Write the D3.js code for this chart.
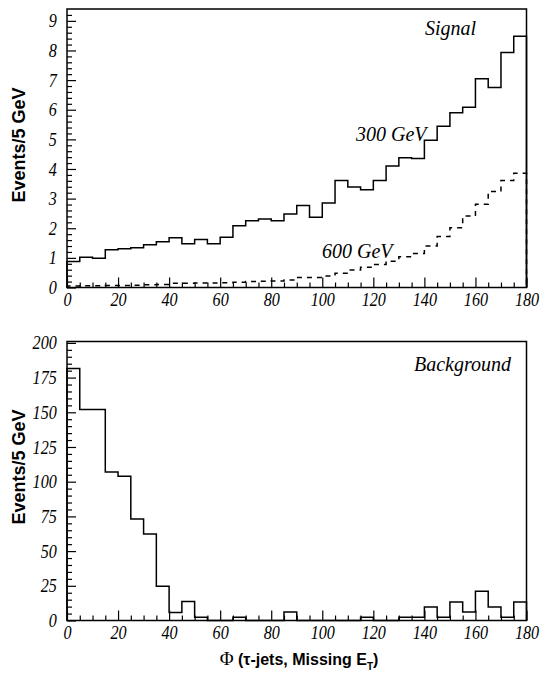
<!DOCTYPE html>
<html>
<head>
<meta charset="utf-8">
<script src="https://cdn.jsdelivr.net/npm/d3@7"></script>
<style>
  body { margin: 0; background: #fff; }
  svg { display: block; }
  .tick text { font-family: "Liberation Serif", serif; font-style: italic; font-size: 19px; fill: #000; }
  .tick line { stroke: #000; stroke-width: 1.2; }
</style>
</head>
<body>
<div id="chart"></div>
<script>
// bin lower edges, 5 GeV wide
const binStarts = d3.range(0, 180, 5);

// Signal, 300 GeV (solid) and 600 GeV (dashed), events / 5 GeV
const signal300 = [0.88, 1.02, 0.99, 1.27, 1.31, 1.34, 1.44, 1.54, 1.68, 1.48, 1.62, 1.48,
  1.70, 2.08, 2.25, 2.31, 2.25, 2.48, 2.77, 2.37, 2.85, 3.61, 3.39, 3.30,
  3.61, 4.10, 4.38, 4.35, 4.97, 5.44, 5.90, 6.08, 7.05, 6.75, 7.93, 8.48];
const signal600 = [0.05, 0.06, 0.06, 0.07, 0.07, 0.08, 0.09, 0.10, 0.14, 0.14, 0.15, 0.15,
  0.16, 0.18, 0.20, 0.21, 0.22, 0.25, 0.34, 0.34, 0.39, 0.48, 0.59, 0.68,
  0.78, 0.89, 1.04, 1.15, 1.40, 1.72, 2.02, 2.41, 2.81, 3.24, 3.61, 3.86];

// Background
const background = [181.6, 152, 152, 107, 104, 73.2, 62.3, 24.7, 5.8, 13.6, 2.4, 0,
  0, 2.4, 0, 0, 0, 6.1, 0, 0, 0, 0, 0, 2.4,
  0, 0, 2.4, 2.4, 9.7, 2.4, 13.3, 6.1, 21.1, 9.7, 2.4, 13.3];

const xTicks = [0, 20, 40, 60, 80, 100, 120, 140, 160, 180];
const yTicksTop = [0, 1, 2, 3, 4, 5, 6, 7, 8, 9];
const yTicksBottom = [0, 25, 50, 75, 100, 125, 150, 175, 200];

const W = 540, H = 673;
const left = 67, right = 526.5;

const svg = d3.select('#chart').append('svg')
  .attr('width', W)
  .attr('height', H);

const x = d3.scaleLinear().domain([0, 180]).range([left, right]);

function histPath(values) {
  const pts = [[0, 0]];
  values.forEach((v, i) => {
    pts.push([binStarts[i], v]);
    pts.push([binStarts[i] + 5, v]);
  });
  pts.push([180, 0]);
  return pts;
}

// tick labels are narrow in the original
const squeeze = a => a.selectAll('.tick text').attr('transform', 'scale(0.85,1)');

function panel(top, bottom, yMax, yMajor, yMinorStep, xMinorStep) {
  const y = d3.scaleLinear().domain([0, yMax]).range([bottom, top]);
  const g = svg.append('g');

  // minor ticks
  const xMinor = d3.range(0, 180.01, xMinorStep).filter(v => !xTicks.includes(v));
  g.append('g')
    .attr('transform', `translate(0,${bottom})`)
    .call(d3.axisBottom(x).tickValues(xMinor).tickSize(-5).tickFormat(''))
    .call(a => a.select('.domain').remove());
  const yMinor = d3.range(0, yMax, yMinorStep)
    .filter(v => !yMajor.some(m => Math.abs(m - v) < 1e-6));
  g.append('g')
    .attr('transform', `translate(${left},0)`)
    .call(d3.axisLeft(y).tickValues(yMinor).tickSize(-5).tickFormat(''))
    .call(a => a.select('.domain').remove());

  // major ticks + labels
  g.append('g')
    .attr('transform', `translate(0,${bottom})`)
    .call(d3.axisBottom(x).tickValues(xTicks).tickSize(-10).tickPadding(5).tickFormat(d3.format('d')))
    .call(a => a.select('.domain').remove())
    .call(squeeze);
  g.append('g')
    .attr('transform', `translate(${left},0)`)
    .call(d3.axisLeft(y).tickValues(yMajor).tickSize(-9).tickPadding(12).tickFormat(d3.format('d')))
    .call(a => a.select('.domain').remove())
    .call(squeeze);

  // frame
  g.append('rect')
    .attr('x', left).attr('y', top)
    .attr('width', right - left).attr('height', bottom - top)
    .attr('fill', 'none').attr('stroke', '#000').attr('stroke-width', 1.5);

  return { g, y };
}

const line = y => d3.line().x(d => x(d[0])).y(d => y(d[1]));

// top panel: signal
const topP = panel(9, 287.5, 9.4, yTicksTop, 0.2, 5);
topP.g.append('path')
  .attr('d', line(topP.y)(histPath(signal600)))
  .attr('fill', 'none').attr('stroke', '#000').attr('stroke-width', 1.5)
  .attr('stroke-dasharray', '5,5');
topP.g.append('path')
  .attr('d', line(topP.y)(histPath(signal300)))
  .attr('fill', 'none').attr('stroke', '#000').attr('stroke-width', 1.5);

// bottom panel: background
const botP = panel(341.5, 620.5, 201, yTicksBottom, 5, 5);
botP.g.append('path')
  .attr('d', line(botP.y)(histPath(background)))
  .attr('fill', 'none').attr('stroke', '#000').attr('stroke-width', 1.5);

// labels inside panels
const serifText = (tx, ty, str, anchor) => svg.append('text')
  .attr('x', tx).attr('y', ty)
  .attr('text-anchor', anchor)
  .style('font-family', '"Liberation Serif", serif')
  .style('font-style', 'italic')
  .style('font-size', '20px')
  .text(str);

serifText(476, 35, 'Signal', 'end');
serifText(356, 141, '300 GeV', 'start');
serifText(322, 258, '600 GeV', 'start');
serifText(511, 371, 'Background', 'end');

// y axis titles
[145, 467].forEach(cy => {
  svg.append('text')
    .attr('transform', `translate(25,${cy}) rotate(-90)`)
    .attr('text-anchor', 'middle')
    .style('font-family', '"Liberation Sans", Arial, sans-serif')
    .style('font-weight', 'bold')
    .style('font-size', '18px')
    .text('Events/5 GeV');
});

// x axis title
const xt = svg.append('text')
  .attr('x', 299).attr('y', 665)
  .attr('text-anchor', 'middle')
  .style('font-family', '"Liberation Sans", Arial, sans-serif')
  .style('font-weight', 'bold')
  .style('font-size', '16px');
xt.append('tspan')
  .style('font-family', '"Liberation Serif", serif')
  .style('font-weight', 'normal')
  .style('font-size', '19px')
  .text('Φ');
xt.append('tspan').text(' (τ-jets, Missing E');
xt.append('tspan').attr('dy', 5).style('font-size', '10px').text('T');
xt.append('tspan').attr('dy', -5).text(')');
</script>
</body>
</html>
